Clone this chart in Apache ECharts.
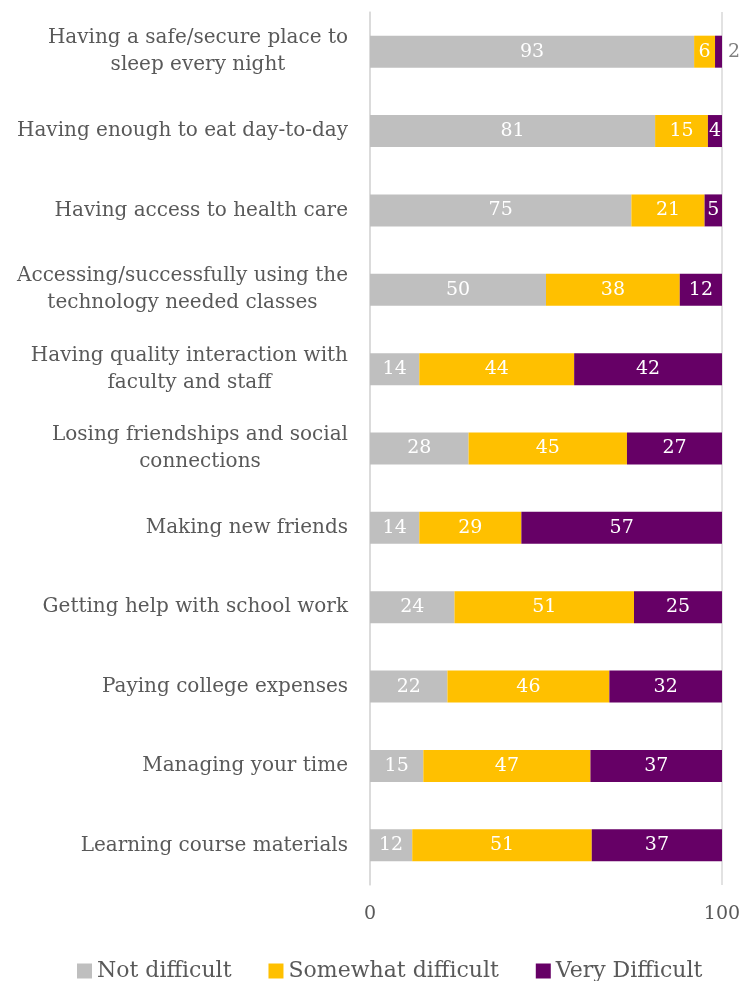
<!DOCTYPE html>
<html>
<head>
<meta charset="utf-8">
<script src="https://cdn.jsdelivr.net/npm/echarts@6/dist/echarts.min.js"></script>
<style>html,body{margin:0;padding:0;background:#fff;}#chart{width:755px;height:981px;}</style>
</head>
<body>
<div id="chart"></div>
<script>
const categories = [
  "Having a safe/secure place to\nsleep every night",
  "Having enough to eat day-to-day",
  "Having access to health care",
  "Accessing/successfully using the\ntechnology needed classes",
  "Having quality interaction with\nfaculty and staff",
  "Losing friendships and social\nconnections",
  "Making new friends",
  "Getting help with school work",
  "Paying college expenses",
  "Managing your time",
  "Learning course materials"
];
const notDifficult      = [93, 81, 75, 50, 14, 28, 14, 24, 22, 15, 12];
const somewhatDifficult = [6, 15, 21, 38, 44, 45, 29, 51, 46, 47, 51];
const veryDifficult     = [2, 4, 5, 12, 42, 27, 57, 25, 32, 37, 37];
const seriesNames = ["Not difficult", "Somewhat difficult", "Very Difficult"];
const seriesColors = ["#BFBFBF", "#FFC000", "#660066"];
const xTicks = [0, 100];

const FONT = "DejaVu Serif";
const TEXT = '#595959';
const all = [notDifficult, somewhatDifficult, veryDifficult];
const totals = categories.map((_, i) => all.reduce((s, a) => s + a[i], 0));

const series = all.map((arr, si) => ({
  name: seriesNames[si],
  type: 'bar',
  stack: 'total',
  barWidth: 32,
  itemStyle: { color: seriesColors[si] },
  label: {
    show: true,
    position: 'inside',
    color: '#ffffff',
    fontFamily: FONT,
    fontSize: 19,
    formatter: p => String(arr[p.dataIndex])
  },
  data: arr.map((v, i) => {
    const pct = v / totals[i] * 100;
    const item = { value: pct };
    if (pct < 3) {
      item.label = { position: 'right', color: '#7f7f7f', distance: 6 };
    }
    return item;
  })
}));

const chart = echarts.init(document.getElementById('chart'));
chart.setOption({
  animation: false,
  textStyle: { fontFamily: FONT },
  grid: { left: 370, right: 33, top: 12, bottom: 96, containLabel: false },
  legend: {
    top: 955,
    left: 72,
    itemWidth: 15,
    itemHeight: 15,
    itemGap: 37,
    icon: 'rect',
    textStyle: { color: TEXT, fontSize: 22, fontFamily: FONT },
    data: seriesNames
  },
  xAxis: {
    type: 'value',
    min: xTicks[0],
    max: xTicks[1],
    interval: 100,
    axisLine: { show: false },
    axisTick: { show: false },
    splitLine: { show: true, lineStyle: { color: '#D9D9D9', width: 1.5 } },
    axisLabel: { color: TEXT, fontSize: 19, fontFamily: FONT, margin: 20 }
  },
  yAxis: {
    type: 'category',
    inverse: true,
    data: categories,
    axisLine: { show: true, lineStyle: { color: '#D9D9D9', width: 1.5 } },
    axisTick: { show: false },
    axisLabel: {
      color: TEXT,
      fontSize: 20,
      fontFamily: FONT,
      margin: 22,
      lineHeight: 27,
      align: 'right',
      formatter: v => v.split('\n').map(l => '{c|' + l + '}').join('\n'),
      rich: {
        c: { align: 'center', color: TEXT, fontSize: 20, fontFamily: FONT, lineHeight: 27 }
      }
    }
  },
  series: series
});
</script>
</body>
</html>
